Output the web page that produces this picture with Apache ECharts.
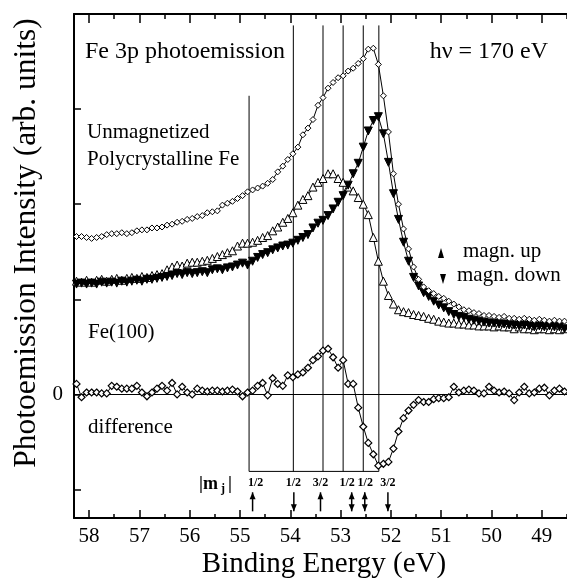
<!DOCTYPE html>
<html><head><meta charset="utf-8">
<script src="https://cdn.jsdelivr.net/npm/echarts@6/dist/echarts.min.js"></script>
<style>html,body{margin:0;padding:0;background:#fff}#c{width:567px;height:578px}</style>
</head><body><div id="c"></div>
<script>
// ---- data (binding energy in eV, intensity in arb. units; 0 = difference baseline) ----
const energies = [58.25,58.15,58.05,57.95,57.85,57.75,57.65,57.55,57.45,57.35,57.25,57.15,57.05,56.95,56.85,56.75,56.65,56.55,56.45,56.35,56.25,56.15,56.05,55.95,55.85,55.75,55.65,55.55,55.45,55.35,55.25,55.15,55.05,54.95,54.85,54.75,54.65,54.55,54.45,54.35,54.25,54.15,54.05,53.95,53.85,53.75,53.65,53.55,53.45,53.35,53.25,53.15,53.05,52.95,52.85,52.75,52.65,52.55,52.45,52.35,52.25,52.15,52.05,51.95,51.85,51.75,51.65,51.55,51.45,51.35,51.25,51.15,51.05,50.95,50.85,50.75,50.65,50.55,50.45,50.35,50.25,50.15,50.05,49.95,49.85,49.75,49.65,49.55,49.45,49.35,49.25,49.15,49.05,48.95,48.85,48.75,48.65,48.55];
const unmagnetized = [1.66,1.66,1.65,1.64,1.65,1.66,1.68,1.69,1.69,1.70,1.69,1.70,1.72,1.73,1.73,1.75,1.75,1.76,1.78,1.79,1.81,1.82,1.84,1.85,1.87,1.88,1.91,1.92,1.93,1.99,2.01,2.03,2.06,2.09,2.13,2.15,2.17,2.19,2.22,2.26,2.34,2.40,2.47,2.53,2.60,2.73,2.80,2.89,3.04,3.12,3.22,3.28,3.33,3.35,3.40,3.43,3.48,3.53,3.63,3.64,3.47,3.14,2.76,2.32,2.00,1.74,1.53,1.34,1.21,1.13,1.09,1.06,1.03,1.01,0.98,0.95,0.92,0.89,0.88,0.86,0.85,0.83,0.83,0.82,0.81,0.82,0.80,0.80,0.79,0.80,0.79,0.78,0.79,0.78,0.77,0.78,0.77,0.77];
const magnUp = [1.19,1.18,1.20,1.18,1.20,1.21,1.19,1.21,1.22,1.20,1.22,1.23,1.22,1.24,1.23,1.25,1.26,1.27,1.31,1.34,1.36,1.35,1.38,1.39,1.39,1.40,1.41,1.43,1.45,1.47,1.49,1.51,1.56,1.59,1.59,1.60,1.62,1.65,1.67,1.72,1.76,1.81,1.85,1.91,1.99,2.05,2.09,2.18,2.23,2.27,2.32,2.32,2.27,2.23,2.18,2.14,2.07,2.00,1.89,1.65,1.40,1.19,1.04,0.95,0.89,0.87,0.86,0.84,0.83,0.82,0.80,0.79,0.77,0.76,0.75,0.75,0.74,0.74,0.73,0.73,0.72,0.72,0.72,0.71,0.72,0.71,0.71,0.69,0.71,0.69,0.69,0.68,0.69,0.69,0.68,0.69,0.68,0.69];
const magnDown = [1.16,1.17,1.16,1.17,1.16,1.18,1.17,1.18,1.17,1.19,1.18,1.19,1.20,1.19,1.21,1.21,1.22,1.23,1.24,1.25,1.27,1.26,1.28,1.27,1.28,1.29,1.28,1.31,1.32,1.31,1.33,1.34,1.36,1.38,1.36,1.40,1.44,1.47,1.49,1.52,1.54,1.56,1.57,1.59,1.62,1.65,1.68,1.75,1.80,1.83,1.88,1.95,2.02,2.09,2.20,2.32,2.43,2.60,2.77,2.88,2.92,2.74,2.44,2.11,1.84,1.60,1.40,1.23,1.14,1.07,1.03,0.98,0.94,0.91,0.87,0.84,0.82,0.81,0.79,0.78,0.77,0.76,0.75,0.75,0.74,0.74,0.73,0.73,0.72,0.73,0.72,0.71,0.72,0.71,0.72,0.71,0.71,0.69];
const difference = [0.11,-0.03,0.02,0.02,0.02,0.01,0.01,0.09,0.08,0.06,0.06,0.06,0.09,0.02,-0.02,0.02,0.06,0.09,0.04,0.12,0.00,0.08,0.02,0.00,0.06,0.04,0.03,0.04,0.04,0.03,0.04,0.05,0.03,-0.02,0.02,0.04,0.09,0.12,-0.01,0.17,0.11,0.09,0.20,0.18,0.21,0.23,0.28,0.36,0.40,0.46,0.48,0.39,0.28,0.36,0.11,0.11,-0.14,-0.34,-0.51,-0.63,-0.75,-0.73,-0.71,-0.57,-0.39,-0.25,-0.17,-0.11,-0.06,-0.08,-0.08,-0.05,-0.04,-0.04,-0.03,0.08,0.02,0.04,0.05,0.04,0.01,0.01,0.08,0.04,0.02,0.03,0.01,-0.06,0.02,0.08,0.01,0.02,0.06,0.07,-0.01,0.04,0.06,0.03];
const xTickLabels = [49,50,51,52,53,54,55,56,57,58];
const yTickValues = [-1,0,1,2,3];
const yLabelValues = [0];
const mjLineEnergies = [54.82,53.94,53.35,52.95,52.55,52.24];
const mjLineTops = [3.14,3.88,3.88,3.88,3.88,3.88];
const mjBoxBottom = -0.81;
const mjLabels = ['1/2','1/2','3/2','1/2','1/2','3/2'];
const mjLabelEnergies = [54.69,53.94,53.40,52.87,52.51,52.06];
const mjLabelLevel = -0.93;
const arrowEnergies = [54.75,53.93,53.40,52.78,52.52,52.06];
const arrowDirs = [1,-1,1,2,2,-1]; // 1 up, -1 down, 2 both
const arrowTop = -1.03, arrowBottom = -1.23;

// ---- chart ----
const SERIF = '"Liberation Serif", "Times New Roman", serif';
const chart = echarts.init(document.getElementById('c'), null, {renderer: 'canvas'});
const K = '#000';
const xBase = {type: 'value', min: 48.5, max: 58.3, inverse: true, splitLine: {show: false}, gridIndex: 0};

function txt(text, x, y, size, opts) {
  opts = opts || {};
  return {
    type: 'text', x: x, y: y, rotation: opts.rotation || 0,
    style: {text: text, font: (opts.bold ? 'bold ' : '') + size + 'px ' + SERIF, fill: K,
      textAlign: opts.align || 'left', textVerticalAlign: 'middle', align: opts.align || 'left', verticalAlign: 'middle'},
    z: 100
  };
}

const option = {
  animation: false,
  backgroundColor: '#fff',
  grid: {left: 74, right: 0, top: 14, bottom: 60},
  xAxis: [
    Object.assign({}, xBase, {position: 'bottom', interval: 0.5,
      axisLine: {show: true, onZero: false, lineStyle: {color: K, width: 2}},
      axisTick: {show: true, inside: true, length: 4, lineStyle: {color: K, width: 1.5}},
      axisLabel: {show: false}}),
    Object.assign({}, xBase, {position: 'bottom',
      axisLine: {show: false, onZero: false},
      axisTick: {show: true, inside: true, length: 8, customValues: xTickLabels, lineStyle: {color: K, width: 1.5}},
      axisLabel: {show: true, customValues: xTickLabels, color: K, fontFamily: SERIF, fontSize: 21, margin: 8}}),
    Object.assign({}, xBase, {position: 'top', interval: 0.5,
      axisLine: {show: true, onZero: false, lineStyle: {color: K, width: 2}},
      axisTick: {show: true, inside: true, length: 5, lineStyle: {color: K, width: 1.5}},
      axisLabel: {show: false}}),
    Object.assign({}, xBase, {position: 'top',
      axisLine: {show: false, onZero: false},
      axisTick: {show: true, inside: true, length: 9, customValues: xTickLabels, lineStyle: {color: K, width: 1.5}},
      axisLabel: {show: false}})
  ],
  yAxis: [{
    type: 'value', min: -1.3, max: 4.0, position: 'left', splitLine: {show: false},
    axisLine: {show: true, onZero: false, lineStyle: {color: K, width: 2}},
    axisTick: {show: true, inside: true, length: 7, customValues: yTickValues, lineStyle: {color: K, width: 1.5}},
    axisLabel: {show: true, customValues: yLabelValues, color: K, fontFamily: SERIF, fontSize: 21, margin: 11}
  }],
  graphic: [
    txt('Fe 3p photoemission', 85, 52, 24),
    txt('hν = 170 eV', 548, 52, 24, {align: 'right'}),
    txt('Unmagnetized', 87, 132, 21),
    txt('Polycrystalline Fe', 87, 159, 21),
    txt('magn. up', 463, 251, 21),
    txt('magn. down', 457, 275, 21),
    {type: 'polygon', shape: {points: [[438, 258], [444, 258], [441, 248]]}, style: {fill: K}, z: 100},
    {type: 'polygon', shape: {points: [[440, 274], [446, 274], [443, 284]]}, style: {fill: K}, z: 100},
    txt('Fe(100)', 88, 332, 21),
    txt('difference', 88, 427, 21),
    txt('|m', 199, 484, 18, {bold: true}),
    txt('j', 221, 489, 12, {bold: true}),
    txt('|', 228, 484, 18, {bold: true}),
    txt('Binding Energy (eV)', 324, 564, 29, {align: 'center'}),
    txt('Photoemission Intensity (arb. units)', 27, 243, 31.5, {align: 'center', rotation: Math.PI / 2})
  ],
  series: [
    {
      type: 'custom', name: 'mj lines', xAxisIndex: 0, yAxisIndex: 0, silent: true,
      data: mjLineEnergies.map((e, i) => [e, mjLineTops[i]]),
      renderItem: function (params, api) {
        const p1 = api.coord([api.value(0), api.value(1)]);
        const p2 = api.coord([api.value(0), mjBoxBottom]);
        return {type: 'line', shape: {x1: p1[0], y1: p1[1], x2: p2[0], y2: p2[1]}, style: {stroke: K, lineWidth: 1}};
      }
    },
    {
      type: 'custom', name: 'mj box', xAxisIndex: 0, yAxisIndex: 0, silent: true,
      data: [[mjLineEnergies[0], mjBoxBottom, mjLineEnergies[mjLineEnergies.length - 1]]],
      renderItem: function (params, api) {
        const p1 = api.coord([api.value(0), api.value(1)]);
        const p2 = api.coord([api.value(2), api.value(1)]);
        return {type: 'line', shape: {x1: p1[0], y1: p1[1], x2: p2[0], y2: p2[1]}, style: {stroke: K, lineWidth: 1}};
      }
    },
    {
      type: 'line', name: 'magn. up', data: energies.map((e, i) => [e, magnUp[i]]),
      symbol: 'triangle', symbolSize: 8, showAllSymbol: true,
      lineStyle: {color: K, width: 1}, itemStyle: {color: '#fff', borderColor: K, borderWidth: 1}, z: 3
    },
    {
      type: 'line', name: 'magn. down', data: energies.map((e, i) => [e, magnDown[i]]),
      symbol: 'triangle', symbolRotate: 180, symbolSize: 8, showAllSymbol: true,
      lineStyle: {color: K, width: 1}, itemStyle: {color: K, borderColor: K, borderWidth: 1}, z: 4
    },
    {
      type: 'line', name: 'Unmagnetized', data: energies.map((e, i) => [e, unmagnetized[i]]),
      symbol: 'diamond', symbolSize: 6, showAllSymbol: true,
      lineStyle: {color: K, width: 1}, itemStyle: {color: '#fff', borderColor: K, borderWidth: 1}, z: 5
    },
    {
      type: 'line', name: 'difference', data: energies.map((e, i) => [e, difference[i]]),
      symbol: 'diamond', symbolSize: 7, showAllSymbol: true,
      lineStyle: {color: K, width: 1}, itemStyle: {color: '#fff', borderColor: K, borderWidth: 1.2}, z: 5,
      markLine: {silent: true, symbol: ['none', 'none'], label: {show: false},
        lineStyle: {color: K, width: 1, type: 'solid'}, data: [{yAxis: 0}]}
    },
    {
      type: 'custom', name: 'mj labels', xAxisIndex: 0, yAxisIndex: 0, silent: true,
      data: mjLabelEnergies.map((e) => [e, mjLabelLevel]),
      renderItem: function (params, api) {
        const p = api.coord([api.value(0), api.value(1)]);
        return {type: 'text', x: p[0], y: p[1], style: {text: mjLabels[params.dataIndex], font: 'bold 12px ' + SERIF,
          fill: K, textAlign: 'center', textVerticalAlign: 'middle', align: 'center', verticalAlign: 'middle'}};
      }
    },
    {
      type: 'custom', name: 'arrows', xAxisIndex: 0, yAxisIndex: 0, silent: true,
      data: arrowEnergies.map((e, i) => [e, arrowDirs[i]]),
      renderItem: function (params, api) {
        const e = api.value(0), d = api.value(1);
        const t = api.coord([e, arrowTop]), b = api.coord([e, arrowBottom]);
        const x = t[0], hw = 3, hl = 7;
        const kids = [{type: 'line', shape: {x1: x, y1: t[1], x2: x, y2: b[1]}, style: {stroke: K, lineWidth: 1.5}}];
        if (d === 1 || d === 2) kids.push({type: 'polygon', shape: {points: [[x - hw, t[1] + hl], [x + hw, t[1] + hl], [x, t[1]]]}, style: {fill: K}});
        if (d === -1 || d === 2) kids.push({type: 'polygon', shape: {points: [[x - hw, b[1] - hl], [x + hw, b[1] - hl], [x, b[1]]]}, style: {fill: K}});
        return {type: 'group', children: kids};
      }
    }
  ]
};
chart.setOption(option);
</script></body></html>
